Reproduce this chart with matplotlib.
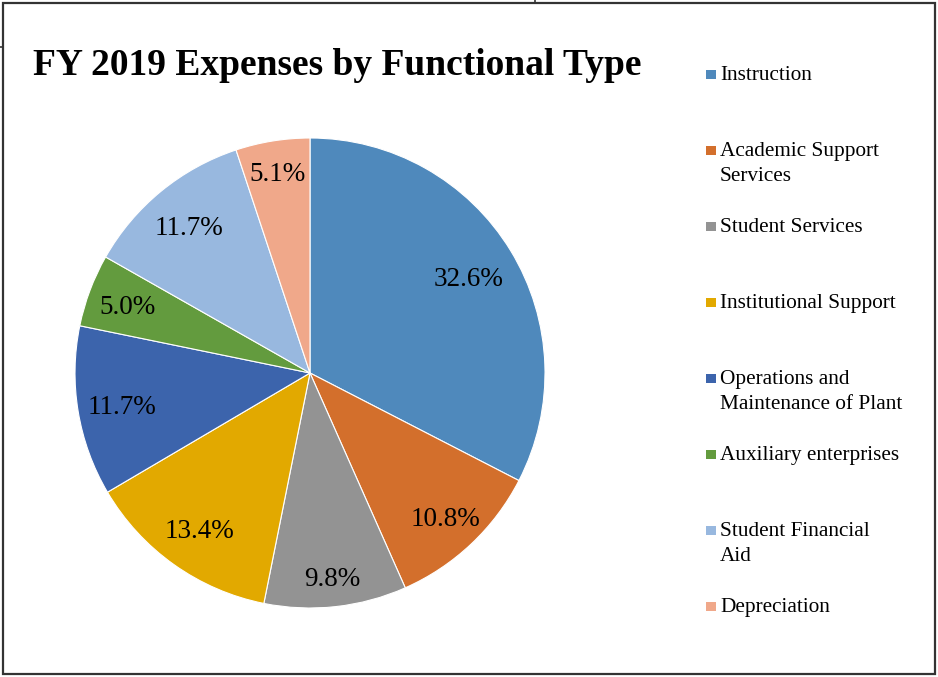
import matplotlib.pyplot as plt
import numpy as np
from matplotlib.patches import Rectangle
from matplotlib.lines import Line2D

plt.rcParams['font.family'] = ['Liberation Serif', 'DejaVu Serif']

categories = ["Instruction", "Academic Support\nServices", "Student Services",
              "Institutional Support", "Operations and\nMaintenance of Plant",
              "Auxiliary enterprises", "Student Financial\nAid", "Depreciation"]
shares = [32.6, 10.8, 9.8, 13.4, 11.7, 5.0, 11.7, 5.1]
colors = ["#4F89BC", "#D36F2C", "#939393", "#E2A900",
          "#3C64AC", "#639B3E", "#98B8DF", "#F0A88A"]
# how far out each percentage sits, as a fraction of the radius
label_r = [0.79, 0.84, 0.87, 0.81, 0.81, 0.83, 0.81, 0.87]

W, H = 938, 677
fig = plt.figure(figsize=(W / 100, H / 100), dpi=100)

cx, cy, r = 310, 373, 235
ax = fig.add_axes([(cx - r) / W, 1 - (cy + r) / H, 2 * r / W, 2 * r / H])
wedges, _ = ax.pie(shares, colors=colors, startangle=90, counterclock=False,
                   wedgeprops=dict(edgecolor="white", linewidth=0.8))
ax.set_xlim(-1, 1)
ax.set_ylim(-1, 1)

for w, v, d in zip(wedges, shares, label_r):
    mid = np.deg2rad((w.theta1 + w.theta2) / 2)
    ax.text(d * np.cos(mid), d * np.sin(mid), f"{v:.1f}%",
            ha="center", va="center_baseline", fontsize=19.5, color="black")

fig.text(33 / W, 1 - 75 / H, "FY 2019 Expenses by Functional Type",
         ha="left", va="baseline", fontsize=27, fontweight="bold")

# legend, one entry every 76 px, square beside the first line
for i, (name, c) in enumerate(zip(categories, colors)):
    y = 73 + 76 * i
    fig.add_artist(Rectangle((706 / W, 1 - (y + 6) / H), 10 / W, 9 / H,
                             transform=fig.transFigure, facecolor=c, edgecolor="none"))
    for j, line in enumerate(name.split("\n")):
        fig.text(720 / W, 1 - (y + 7 + 25 * j) / H, line, ha="left", va="baseline",
                 fontsize=15.3)

# outer frame
edge = "#333333"
fig.add_artist(Rectangle((3 / W, 3 / H), 932 / W, 671 / H, transform=fig.transFigure,
                         fill=False, edgecolor=edge, linewidth=1.6))
fig.add_artist(Line2D([0, 3 / W], [1 - 47 / H, 1 - 47 / H], transform=fig.transFigure,
                      color=edge, linewidth=1.2))
fig.add_artist(Line2D([535 / W, 535 / W], [1, 1 - 3 / H], transform=fig.transFigure,
                      color=edge, linewidth=1.2))

fig.savefig("out.png", dpi=100, facecolor="white")
